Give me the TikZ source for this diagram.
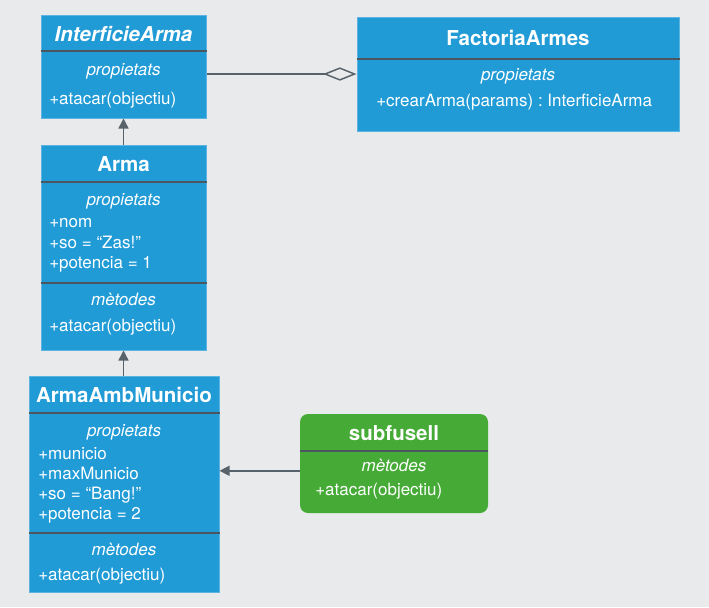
\documentclass[tikz,border=0pt]{standalone}
\usepackage{fontspec}
\setmainfont{TeX Gyre Heros}
\frenchspacing
\usetikzlibrary{arrows.meta,fit,calc}
\definecolor{canvas}{HTML}{E9EAEC}
\definecolor{umlblue}{HTML}{219BD6}
\definecolor{umlgreen}{HTML}{46AB36}
\definecolor{divcol}{HTML}{4B5660}
\definecolor{edgecol}{HTML}{57626B}
\definecolor{rimcol}{HTML}{5DB3E2}
\tikzset{
  classbox/.style={fill=umlblue, draw=rimcol, line width=0.75pt, inner sep=0pt},
  greenbox/.style={fill=umlgreen, draw=none, rounded corners=6pt, inner sep=0pt},
  divider/.style={draw=divcol, line width=1.5pt},
  ctitle/.style={text=white, font=\fontsize{15.4}{18}\selectfont\bfseries, anchor=base, inner sep=0pt},
  cititle/.style={ctitle, font=\fontsize{15.4}{18}\selectfont\bfseries\itshape},
  csection/.style={text=white, font=\fontsize{12.75}{15}\selectfont\itshape, anchor=base, inner sep=0pt},
  cmember/.style={text=white, font=\fontsize{12.75}{15}\selectfont, anchor=base west, inner sep=0pt},
  link/.style={draw=edgecol, line width=1.1pt},
  inherit/.style={link, -{Triangle[length=7.5pt,width=7.5pt]}},
  aggregate/.style={link, {Diamond[open,length=25pt,width=10pt]}-}
}
\begin{document}
\begin{tikzpicture}[x=0.75pt,y=-0.75pt]
  \fill[canvas] (0,0) rectangle (709,607);
  \useasboundingbox (0,0) rectangle (709,607);

  % InterficieArma
  \coordinate (ia1) at (41,15);  \coordinate (ia2) at (206,118);
  \node[classbox, fit=(ia1)(ia2)] (ia) {};
  \draw[divider] (ia.west |- 0,51) -- (ia.east |- 0,51);
  \node[cititle] (iat) at (123.5,41) {InterficieArma};
  \node[csection] (iap) at (123.5,75) {propietats};
  \node[cmember] (iam) at (49,104) {+atacar(objectiu)};

  % FactoriaArmes
  \coordinate (fa1) at (357,17);  \coordinate (fa2) at (679,131);
  \node[classbox, fit=(fa1)(fa2)] (fa) {};
  \draw[divider] (fa.west |- 0,59) -- (fa.east |- 0,59);
  \node[ctitle] (fat) at (518,45.5) {FactoriaArmes};
  \node[csection] (fap) at (518,80.5) {propietats};
  \node[cmember] (fam) at (376,106.5) {+crearArma(params) : InterficieArma};

  % Arma
  \coordinate (ar1) at (41,145);  \coordinate (ar2) at (206,350);
  \node[classbox, fit=(ar1)(ar2)] (arma) {};
  \draw[divider] (arma.west |- 0,182) -- (arma.east |- 0,182);
  \draw[divider] (arma.west |- 0,283) -- (arma.east |- 0,283);
  \node[ctitle] (art) at (123.5,171.5) {Arma};
  \node[csection] (arp) at (123.5,205) {propietats};
  \node[cmember] (ara) at (49,227.5) {+nom};
  \node[cmember] (arb) at (49,248) {+so = “Zas!”};
  \node[cmember] (arc) at (49,268) {+potencia = 1};
  \node[csection] (arm) at (123.5,305) {mètodes};
  \node[cmember] (ard) at (49,331.5) {+atacar(objectiu)};

  % ArmaAmbMunicio
  \coordinate (am1) at (29,376);  \coordinate (am2) at (219,592);
  \node[classbox, fit=(am1)(am2)] (aam) {};
  \draw[divider] (aam.west |- 0,413) -- (aam.east |- 0,413);
  \draw[divider] (aam.west |- 0,533) -- (aam.east |- 0,533);
  \node[ctitle] (amt) at (124,402.5) {ArmaAmbMunicio};
  \node[csection] (amp) at (124,436) {propietats};
  \node[cmember] (ama) at (38,459) {+municio};
  \node[cmember] (amb) at (38,479) {+maxMunicio};
  \node[cmember] (amc) at (38,499) {+so = “Bang!”};
  \node[cmember] (amd) at (38,519) {+potencia = 2};
  \node[csection] (amm) at (124,555) {mètodes};
  \node[cmember] (ame) at (38,580) {+atacar(objectiu)};

  % subfusell
  \coordinate (sf1) at (300,414);  \coordinate (sf2) at (488,513);
  \node[greenbox, fit=(sf1)(sf2)] (sf) {};
  \draw[divider] (sf.west |- 0,451) -- (sf.east |- 0,451);
  \node[ctitle] (sft) at (394,440.5) {subfusell};
  \node[csection] (sfm) at (394,471) {mètodes};
  \node[cmember] (sfa) at (315,495) {+atacar(objectiu)};

  % relations
  \draw[inherit] (arma.north) -- (ia.south);
  \draw[inherit] (aam.north -| arma.north) -- (arma.south);
  \coordinate (sfport) at ($(sf.west)+(0,7.3)$);
  \draw[inherit] (sfport) -- (sfport -| aam.east);
  \draw[aggregate] (fa.west) -- (fa.west -| ia.east);
\end{tikzpicture}
\end{document}
